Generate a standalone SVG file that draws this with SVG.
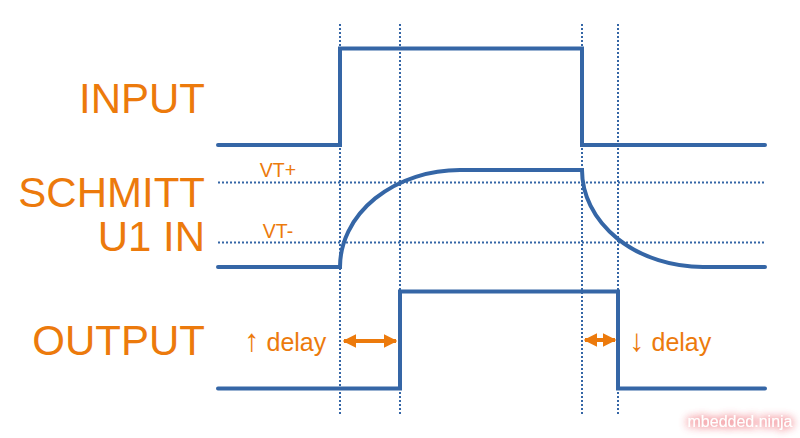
<svg xmlns="http://www.w3.org/2000/svg" width="800" height="438" viewBox="0 0 800 438">
<style>
.lbl{font-family:"Liberation Sans",Arial,sans-serif;fill:#EC7A0C}
.big{font-size:42px;text-anchor:end}
.vt{font-size:19.5px;text-anchor:middle}
.dl{font-size:25px}
.ar{font-size:31px}
.wave{fill:none;stroke:#3566A6;stroke-width:4;stroke-linejoin:miter;stroke-linecap:round}
.dot{fill:none;stroke:#3566A6;stroke-width:2;stroke-dasharray:2 2}
.arr{stroke:#EC7A0C;stroke-width:4;fill:none}
</style>
<defs>
<marker id="ah" viewBox="0 0 10 10" refX="9" refY="5" markerWidth="3.4" markerHeight="3.6" orient="auto-start-reverse" markerUnits="strokeWidth">
<path d="M0,0 L10,5 L0,10 z" fill="#EC7A0C"/>
</marker>
<filter id="glow" x="-20%" y="-80%" width="140%" height="260%">
<feGaussianBlur in="SourceAlpha" stdDeviation="4" result="b"/>
<feFlood flood-color="#ee6f78" flood-opacity="1"/>
<feComposite in2="b" operator="in" result="g"/>
<feMerge><feMergeNode in="g"/><feMergeNode in="g"/><feMergeNode in="SourceGraphic"/></feMerge>
</filter>
</defs>
<g id="guides">
<line class="dot" x1="340" y1="24" x2="340" y2="414"/>
<line class="dot" x1="400" y1="24" x2="400" y2="414"/>
<line class="dot" x1="582" y1="24" x2="582" y2="414"/>
<line class="dot" x1="618" y1="24" x2="618" y2="414"/>
<line class="dot" x1="218" y1="182.5" x2="764" y2="182.5"/>
<line class="dot" x1="218" y1="242.5" x2="764" y2="242.5"/>
</g>
<g id="input">
<text class="lbl big" x="205" y="112.7">INPUT</text>
<polyline class="wave" points="218,145 340,145 340,48.5 582,48.5 582,145 765,145"/>
</g>
<g id="schmitt">
<text class="lbl big" x="205" y="206.7">SCHMITT</text>
<text class="lbl big" x="205" y="250.7">U1 IN</text>
<text class="lbl vt" x="278" y="177">VT+</text>
<text class="lbl vt" x="278" y="238">VT-</text>
<path class="wave" d="M218,267 L340,267 A120,97 0 0 1 460,170 L582,170 A121,97 0 0 0 703,267 L765,267"/>
</g>
<g id="output">
<text class="lbl big" x="205" y="355">OUTPUT</text>
<polyline class="wave" points="218,388.5 400,388.5 400,291.5 618,291.5 618,388.5 765,388.5"/>
<text class="lbl dl" x="244" y="351"><tspan class="ar">↑</tspan><tspan x="266.5">delay</tspan></text>
<text class="lbl dl" x="629" y="351"><tspan class="ar">↓</tspan><tspan x="651.5">delay</tspan></text>
</g>
<g id="connectors">
<line class="arr" x1="344" y1="341" x2="396" y2="341" marker-start="url(#ah)" marker-end="url(#ah)"/>
<line class="arr" x1="585" y1="340" x2="615" y2="340" marker-start="url(#ah)" marker-end="url(#ah)"/>
</g>
<g id="watermark">
<text x="740" y="427" font-family="'Liberation Sans',Arial,sans-serif" font-size="16" fill="#ffffff" text-anchor="middle" filter="url(#glow)">mbedded.ninja</text>
</g>
</svg>
